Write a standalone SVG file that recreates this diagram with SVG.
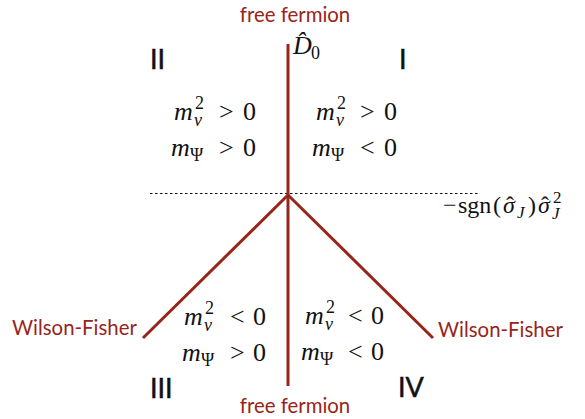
<svg xmlns="http://www.w3.org/2000/svg" width="585" height="419" viewBox="0 0 585 419">
<style>
.red{fill:#97251a;font-family:"Lato","Open Sans",sans-serif;font-size:20.4px}
.rn{fill:#111;stroke:#111;stroke-width:0.5;font-family:"Lato","Open Sans",sans-serif;font-size:27px}
.m{fill:#111;font-family:"Liberation Serif","Times New Roman",serif;font-size:26px}
.ax{fill:#111;font-family:"Liberation Serif","Times New Roman",serif;font-size:24px}
.i{font-style:italic}
.s{font-size:18px}
.ss{font-size:17px}
.ln{stroke:#97251a;stroke-width:3;fill:none}
</style>
<rect width="585" height="419" fill="#fff"/>
<g id="connectors">
<line x1="150" y1="193.5" x2="478" y2="193.5" stroke="#111" stroke-width="1.2" stroke-dasharray="2.5,2.5"/>
<line class="ln" x1="288" y1="44" x2="288" y2="386"/>
<line class="ln" x1="288" y1="195" x2="143" y2="338"/>
<line class="ln" x1="288" y1="195" x2="433" y2="338"/>
</g>
<g id="top-label">
<text class="red" x="295" y="22" text-anchor="middle">free fermion</text>
<text class="m"><tspan class="i" x="293" y="54">D̂</tspan><tspan class="s" x="311" y="59">0</tspan></text>
</g>
<g id="region-I"><text class="rn" x="399" y="69">I</text></g>
<g id="region-II"><text class="rn" x="150" y="69">II</text></g>
<g id="region-III"><text class="rn" x="150" y="398">III</text></g>
<g id="region-IV"><text class="rn" x="398" y="397">IV</text></g>
<g id="math-II">
<text class="m"><tspan class="i" x="174" y="120">m</tspan><tspan class="s i" x="194" y="126">v</tspan><tspan class="s" x="195" y="109">2</tspan><tspan x="219" y="120">&gt;</tspan><tspan x="243" y="120">0</tspan></text>
<text class="m"><tspan class="i" x="171" y="156">m</tspan><tspan class="s" x="190" y="161">Ψ</tspan><tspan x="219" y="156">&gt;</tspan><tspan x="243" y="156">0</tspan></text>
</g>
<g id="math-I">
<text class="m"><tspan class="i" x="316" y="120">m</tspan><tspan class="s i" x="336" y="126">v</tspan><tspan class="s" x="337" y="109">2</tspan><tspan x="360" y="120">&gt;</tspan><tspan x="384" y="120">0</tspan></text>
<text class="m"><tspan class="i" x="312" y="156">m</tspan><tspan class="s" x="331" y="161">Ψ</tspan><tspan x="360" y="156">&lt;</tspan><tspan x="384" y="156">0</tspan></text>
</g>
<g id="math-III">
<text class="m"><tspan class="i" x="184" y="325">m</tspan><tspan class="s i" x="204" y="331">v</tspan><tspan class="s" x="205" y="314">2</tspan><tspan x="230" y="325">&lt;</tspan><tspan x="253" y="325">0</tspan></text>
<text class="m"><tspan class="i" x="182" y="361">m</tspan><tspan class="s" x="201" y="366">Ψ</tspan><tspan x="230" y="361">&gt;</tspan><tspan x="253" y="361">0</tspan></text>
</g>
<g id="math-IV">
<text class="m"><tspan class="i" x="305" y="324">m</tspan><tspan class="s i" x="325" y="330">v</tspan><tspan class="s" x="326" y="313">2</tspan><tspan x="348" y="324">&lt;</tspan><tspan x="371" y="324">0</tspan></text>
<text class="m"><tspan class="i" x="301" y="360">m</tspan><tspan class="s" x="320" y="365">Ψ</tspan><tspan x="348" y="360">&lt;</tspan><tspan x="371" y="360">0</tspan></text>
</g>
<g id="axis-label">
<text class="ax"><tspan x="443" y="213">−</tspan><tspan x="458" y="213">sgn</tspan><tspan x="493" y="213">(</tspan><tspan class="i" x="503" y="213">σ</tspan><tspan x="510" y="213" text-anchor="middle">ˆ</tspan><tspan class="i ss" x="517" y="218">J</tspan><tspan x="528" y="213">)</tspan><tspan class="i" x="538" y="213">σ</tspan><tspan x="545" y="213" text-anchor="middle">ˆ</tspan><tspan class="ss" x="553" y="203">2</tspan><tspan class="i ss" x="552" y="219">J</tspan></text>
</g>
<g id="wf-left"><text class="red" x="12" y="335">Wilson-Fisher</text></g>
<g id="wf-right"><text class="red" x="438" y="337">Wilson-Fisher</text></g>
<g id="bottom-label"><text class="red" x="295" y="413" text-anchor="middle">free fermion</text></g>
</svg>
